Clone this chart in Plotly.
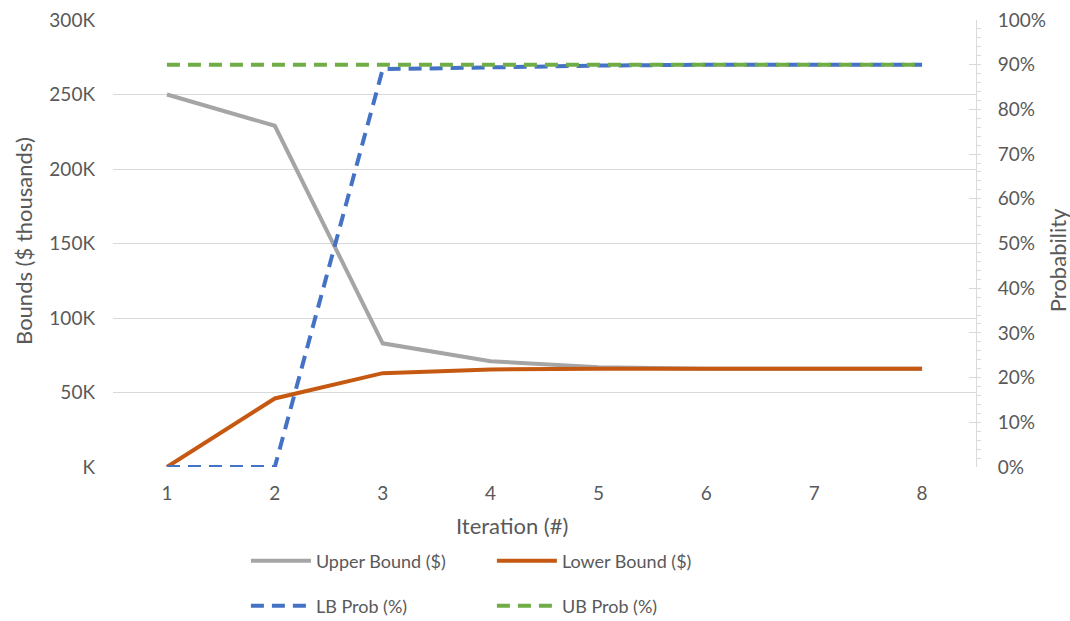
import plotly.graph_objects as go

# Iterations of the bounding procedure
iterations = [1, 2, 3, 4, 5, 6, 7, 8]

# Bounds in $ thousands
upper_bound = [250, 229, 83, 71, 67, 66, 66, 66]
lower_bound = [0, 46, 63, 65.5, 66, 66, 66, 66]

# Probabilities (%)
lb_prob = [0, 0, 89, 89.5, 89.8, 90, 90, 90]
ub_prob = [90, 90, 90, 90, 90, 90, 90, 90]

# Axis ticks
bound_ticks = [0, 50, 100, 150, 200, 250, 300]
bound_tick_labels = ["K", "50K", "100K", "150K", "200K", "250K", "300K"]
prob_ticks = [0, 10, 20, 30, 40, 50, 60, 70, 80, 90, 100]
prob_tick_labels = [f"{v}%" for v in prob_ticks]

FONT = "Lato"
TEXT = "#595959"
GRID = "#D9D9D9"
TICK_SIZE = 19
TITLE_SIZE = 22
LEGEND_SIZE = 18
DASH = "13px,8px"

fig = go.Figure()

fig.add_trace(go.Scatter(
    x=iterations, y=upper_bound, name="Upper Bound ($)", mode="lines",
    line=dict(color="#A5A5A5", width=4), legend="legend"))
fig.add_trace(go.Scatter(
    x=iterations, y=lower_bound, name="Lower Bound ($)", mode="lines",
    line=dict(color="#C65911", width=4), legend="legend"))
fig.add_trace(go.Scatter(
    x=iterations, y=lb_prob, name="LB Prob (%)", mode="lines", yaxis="y2",
    line=dict(color="#4472C4", width=4, dash=DASH), legend="legend2"))
fig.add_trace(go.Scatter(
    x=iterations, y=ub_prob, name="UB Prob (%)", mode="lines", yaxis="y2",
    line=dict(color="#70AD47", width=4, dash=DASH), legend="legend2"))

legend_common = dict(
    orientation="h", xanchor="left", yanchor="middle", yref="container",
    font=dict(family=FONT, size=LEGEND_SIZE, color=TEXT),
    entrywidth=171, entrywidthmode="pixels",
    bgcolor="rgba(0,0,0,0)", itemwidth=60,
)

title_font = dict(family=FONT, size=TITLE_SIZE, color=TEXT)

fig.update_layout(
    width=1070, height=621,
    margin=dict(l=113, r=94, t=20, b=154),
    paper_bgcolor="white", plot_bgcolor="white",
    font=dict(family=FONT, size=TICK_SIZE, color=TEXT),
    showlegend=True,
    legend=dict(x=0.154, y=0.0966, **legend_common),
    legend2=dict(x=0.154, y=0.0242, **legend_common),
    xaxis=dict(
        range=[0.5, 8.5], tickvals=iterations, ticks="", showgrid=False,
        showline=False, zeroline=False, ticklabelstandoff=13, automargin=False,
        tickfont=dict(family=FONT, size=TICK_SIZE, color=TEXT),
    ),
    yaxis=dict(
        range=[0, 300], tickvals=bound_ticks, ticktext=bound_tick_labels,
        showgrid=True, gridcolor=GRID, gridwidth=1, zeroline=False,
        showline=False, ticks="", ticklabelstandoff=17, automargin=False,
        tickfont=dict(family=FONT, size=TICK_SIZE, color=TEXT),
    ),
    yaxis2=dict(
        range=[0, 100], tickvals=prob_ticks, ticktext=prob_tick_labels,
        overlaying="y", side="right", showgrid=False, zeroline=False,
        showline=True, linecolor=GRID, linewidth=1, automargin=False,
        ticks="inside", ticklen=7, tickcolor=GRID, ticklabelstandoff=17,
        minor=dict(dtick=2, ticks="outside", ticklen=4, tickcolor=GRID),
        tickfont=dict(family=FONT, size=TICK_SIZE, color=TEXT),
    ),
    annotations=[
        dict(text="Iteration (#)", xref="paper", yref="paper", x=0.462, y=-0.13,
             xanchor="center", yanchor="middle", showarrow=False, font=title_font),
        dict(text="Bounds ($ thousands)", xref="paper", yref="paper", x=-0.103, y=0.506,
             xanchor="center", yanchor="middle", textangle=-90, showarrow=False, font=title_font),
        dict(text="Probability", xref="paper", yref="paper", x=1.094, y=0.463,
             xanchor="center", yanchor="middle", textangle=-90, showarrow=False, font=title_font),
    ],
)

fig.write_html("out.html")
